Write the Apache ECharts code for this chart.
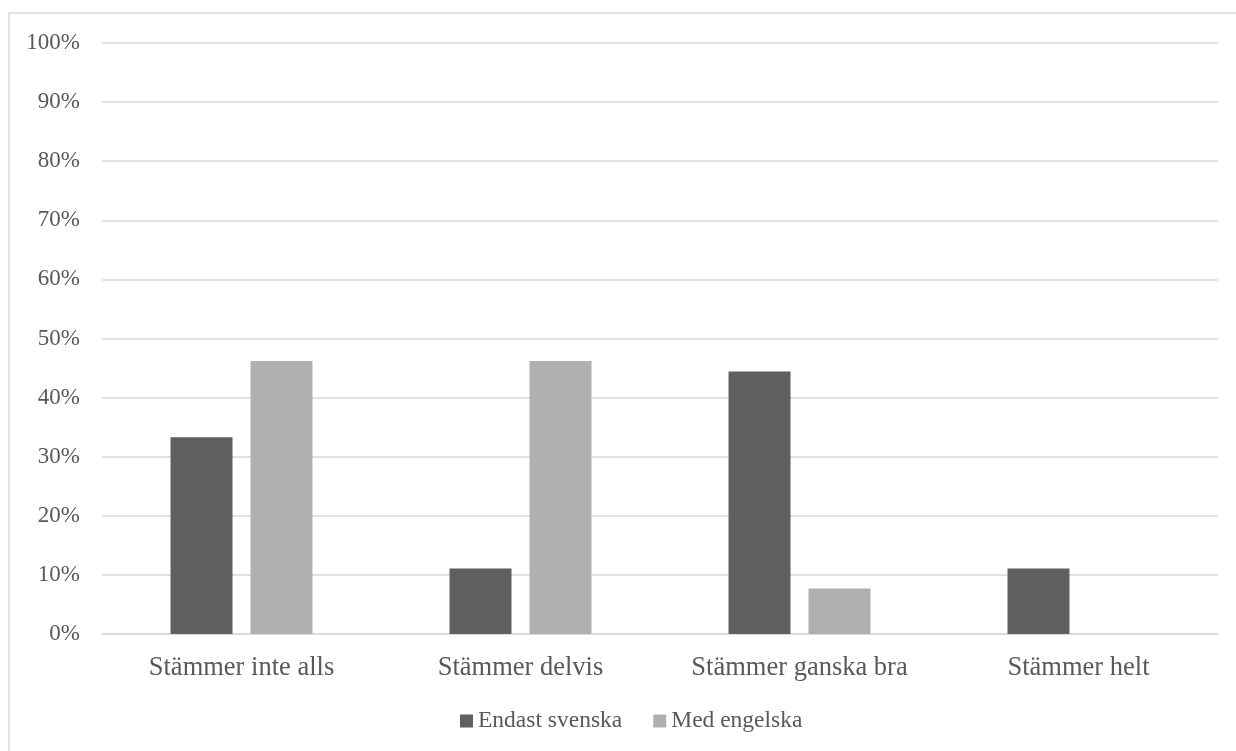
<!DOCTYPE html>
<html>
<head>
<meta charset="utf-8">
<script src="https://cdn.jsdelivr.net/npm/echarts@6/dist/echarts.min.js"></script>
<style>
html, body { margin: 0; padding: 0; background: #fff; }
#chart { width: 1236px; height: 751px; }
</style>
</head>
<body>
<div id="chart"></div>
<script>
// Answer categories along the x axis
const categories = ['Stämmer inte alls', 'Stämmer delvis', 'Stämmer ganska bra', 'Stämmer helt'];
// Share of respondents (%) per group
const endastSvenska = [33.3, 11.1, 44.4, 11.1];
const medEngelska = [46.2, 46.2, 7.7, 0];
const seriesNames = ['Endast svenska', 'Med engelska'];

const font = "'Liberation Serif', 'Times New Roman', serif";
const textColor = '#595959';

const chart = echarts.init(document.getElementById('chart'), null, { renderer: 'canvas' });
chart.setOption({
  animation: false,
  backgroundColor: '#ffffff',
  textStyle: { fontFamily: font, color: textColor },
  graphic: [{
    type: 'rect',
    shape: { x: 9, y: 13, width: 1240, height: 750 },
    style: { fill: 'none', stroke: '#d9d9d9', lineWidth: 1.5 },
    z: -1
  }],
  grid: { left: 102, right: 18, top: 43, bottom: 117, containLabel: false },
  legend: {
    data: seriesNames,
    top: 704,
    left: 455,
    itemWidth: 13, itemHeight: 13,
    itemGap: 31,
    icon: 'rect',
    textStyle: { fontFamily: font, fontSize: 23.5, color: textColor }
  },
  xAxis: {
    type: 'category',
    data: categories,
    axisLine: { show: true, lineStyle: { color: '#d9d9d9', width: 1.5 } },
    axisTick: { show: false },
    axisLabel: { fontFamily: font, fontSize: 26.5, color: textColor, margin: 21, interval: 0 }
  },
  yAxis: {
    type: 'value',
    min: 0, max: 100, interval: 10,
    axisLine: { show: false },
    axisTick: { show: false },
    splitLine: { lineStyle: { color: '#d9d9d9', width: 1.5 } },
    axisLabel: { fontFamily: font, fontSize: 23, color: textColor, margin: 22, formatter: '{value}%' }
  },
  series: [
    {
      name: seriesNames[0], type: 'bar', data: endastSvenska,
      barWidth: 62, barGap: '29%',
      itemStyle: { color: '#5f5f5f' }
    },
    {
      name: seriesNames[1], type: 'bar', data: medEngelska,
      barWidth: 62,
      itemStyle: { color: '#b0b0b0' }
    }
  ]
});
</script>
</body>
</html>
